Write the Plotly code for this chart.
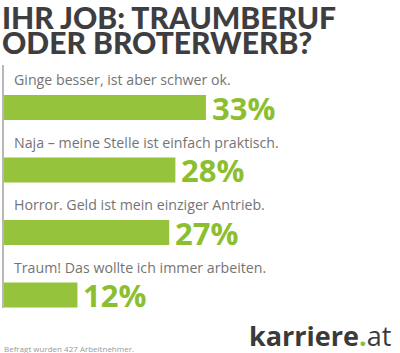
import plotly.graph_objects as go

categories = [
    "Ginge besser, ist aber schwer ok.",
    "Naja – meine Stelle ist einfach praktisch.",
    "Horror. Geld ist mein einziger Antrieb.",
    "Traum! Das wollte ich immer arbeiten.",
]
values = [33, 28, 27, 12]
pct_labels = ["33%", "28%", "27%", "12%"]
title_lines = ["IHR JOB: TRAUMBERUF", "ODER BROTERWERB?"]
footnote = "Befragt wurden 427 Arbeitnehmer."

W, H = 400, 353
PX_PER_UNIT = 6.12      # pixels per percent
X0 = 4                  # pixel of value 0
ROW_PX = 62.5
ROW0 = 107.5

x_range = [-X0 / PX_PER_UNIT, (W - X0) / PX_PER_UNIT]
y_range = [(H - ROW0) / ROW_PX, -ROW0 / ROW_PX]

ypos = list(range(len(values)))
green = "#95c43c"

fig = go.Figure()
fig.add_trace(go.Bar(
    x=values, y=ypos, orientation="h", width=0.4,
    marker=dict(color=green, line=dict(width=0)),
    hoverinfo="skip",
))

ann = []
for i, (c, v, p) in enumerate(zip(categories, values, pct_labels)):
    ann.append(dict(x=8 / PX_PER_UNIT, y=i - 28 / ROW_PX, xref="x", yref="y",
                    text=c, showarrow=False, xanchor="left", yanchor="middle",
                    font=dict(family="Open Sans", size=14.2, color="#747474")))
    ann.append(dict(x=v + 4 / PX_PER_UNIT, y=i, xref="x", yref="y",
                    text="<b>" + p + "</b>", showarrow=False, xanchor="left", yanchor="middle",
                    font=dict(family="Open Sans", size=31, color="#8cbf2f")))

for k, t in enumerate(title_lines):
    ann.append(dict(x=0, y=1 - (17 + 25 * k) / H, xref="paper", yref="paper",
                    text=t, showarrow=False, xanchor="left", yanchor="middle",
                    font=dict(family="Lato", size=30, color="#3e3e40", weight=900)))

ann.append(dict(x=2 / W, y=1 - 348 / H, xref="paper", yref="paper", text=footnote,
                showarrow=False, xanchor="left", yanchor="middle",
                font=dict(family="Open Sans", size=8, color="#999999")))
ann.append(dict(x=393 / W, y=1 - 335 / H, xref="paper", yref="paper",
                text="<b>karriere</b><span style='color:#8cbf2f'><b>.</b></span>at",
                showarrow=False, xanchor="right", yanchor="middle",
                font=dict(family="Open Sans", size=27, color="#3a3a3a")))

fig.add_shape(type="line", xref="x", yref="paper",
              x0=-1 / PX_PER_UNIT, x1=-1 / PX_PER_UNIT,
              y0=1 - 65 / H, y1=1 - 308 / H,
              line=dict(color="#a0a0a0", width=1.5))

fig.update_layout(
    width=W, height=H, margin=dict(l=0, r=0, t=0, b=0),
    paper_bgcolor="white", plot_bgcolor="white",
    showlegend=False, annotations=ann,
    xaxis=dict(range=x_range, visible=False, fixedrange=True),
    yaxis=dict(range=y_range, visible=False, fixedrange=True),
)
fig.write_html("out.html", config={"displayModeBar": False})
